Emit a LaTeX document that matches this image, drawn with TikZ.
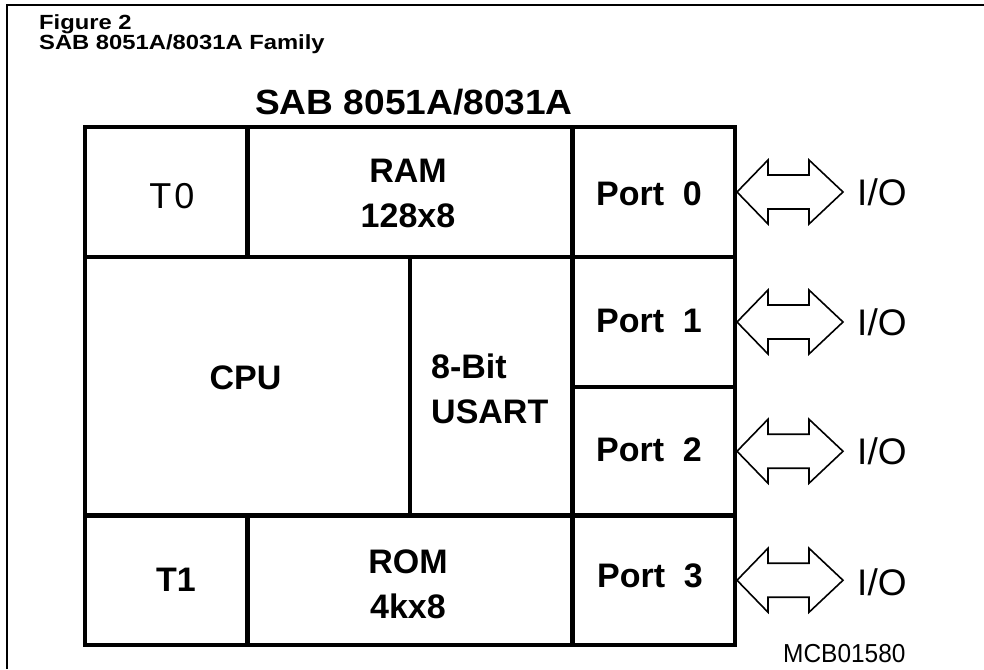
\documentclass[tikz,border=0pt]{standalone}
\usepackage{fontspec}
\setmainfont{Liberation Sans}
\newfontfamily\hdrfont[FakeStretch=1.16]{Liberation Sans}
\newfontfamily\titlefont[FakeStretch=1.06]{Liberation Sans}
\newfontfamily\codefont[FakeStretch=0.94]{Liberation Sans}
\usetikzlibrary{calc}
\begin{document}
\begin{tikzpicture}[x=1pt,y=-1pt,
  cellbox/.style={draw,line width=4.5pt,inner sep=0pt,outer sep=0pt},
  lbl/.style={inner sep=0pt,font=\bfseries\fontsize{34}{45}\selectfont},
  lblreg/.style={inner sep=0pt,font=\fontsize{36}{45}\selectfont},
  iotext/.style={inner sep=0pt,anchor=west,font=\fontsize{37}{40}\selectfont},
  ioarrow/.style={draw,line width=1.6pt,fill=white,line join=miter},
  hdr/.style={inner sep=0pt,anchor=base west,font=\hdrfont\bfseries\fontsize{20.5}{22}\selectfont},
  framel/.style={line width=1.4pt}]
\useasboundingbox (0,0) rectangle (984,669);
% page frame
\draw[framel] (7,669) -- (7,5) -- (984,5);
% header
\node[hdr] (fig) at (39,30) {Figure 2};
\node[hdr] (fam) at (39,50) {SAB 8051A/8031A Family};
\node[inner sep=0pt,font=\titlefont\bfseries\fontsize{35}{40}\selectfont] (title) at (414,102.5) {SAB 8051A/8031A};
% cells
\node[cellbox,minimum width=162.5pt,minimum height=130pt] (t0) at (166.25,192) {};
\node[cellbox,minimum width=325pt,minimum height=130pt] (ram) at (410,192) {};
\node[cellbox,minimum width=162.5pt,minimum height=130pt] (p0) at (653.75,192) {};
\node[cellbox,minimum width=325pt,minimum height=258.5pt] (cpu) at (247.5,386.25) {};
\node[cellbox,minimum width=162.5pt,minimum height=258.5pt] (usart) at (491.25,386.25) {};
\node[cellbox,minimum width=162.5pt,minimum height=130pt] (p1) at (653.75,322) {};
\node[cellbox,minimum width=162.5pt,minimum height=128.5pt] (p2) at (653.75,451.25) {};
\node[cellbox,minimum width=162.5pt,minimum height=129.5pt] (t1) at (166.25,580.25) {};
\node[cellbox,minimum width=325pt,minimum height=129.5pt] (rom) at (410,580.25) {};
\node[cellbox,minimum width=162.5pt,minimum height=129.5pt] (p3) at (653.75,580.25) {};
% labels
\node[lblreg] (t0l) at (172,196) {T\kern3pt 0};
\node[lbl,align=center] (raml) at (408,193) {RAM\\128x8};
\node[lbl] (p0l) at (649,194) {Port\hspace{0.55em}0};
\node[lbl] (cpul) at (245.5,377.5) {CPU};
\node[lbl,align=left,anchor=west] (usartl) at (431,389) {8-Bit\\USART};
\node[lbl] (p1l) at (649,321) {Port\hspace{0.55em}1};
\node[lbl] (p2l) at (649,450) {Port\hspace{0.55em}2};
\node[lbl] (t1l) at (176,580) {T1};
\node[lbl,align=center] (roml) at (408,584) {ROM\\4kx8};
\node[lbl] (p3l) at (650,576) {Port\hspace{0.55em}3};
% I/O
\foreach \i/\yy in {0/192,1/322,2/451,3/582}{
  \node[iotext] (io\i) at (857,\yy) {I/O};
}
\foreach \i in {0,1,2,3}{
  \draw[ioarrow] ($(p\i.east)+(2,0)$) -- ++(31,-32) -- ++(0,15) -- ++(41,0) -- ++(0,-15)
    -- ++(34,32) -- ++(-34,32) -- ++(0,-15) -- ++(-41,0) -- ++(0,15) -- cycle;
}
\node[inner sep=0pt,anchor=base west,font=\codefont\fontsize{26}{30}\selectfont] (code) at (783,662) {MCB01580};
\end{tikzpicture}
\end{document}
